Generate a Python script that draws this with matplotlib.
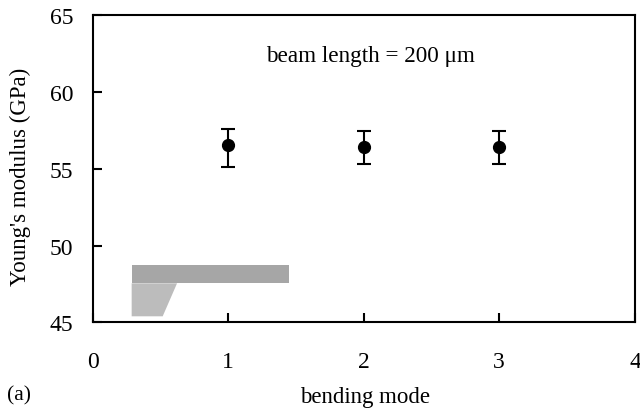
import matplotlib
matplotlib.use('Agg')
import matplotlib.pyplot as plt
from matplotlib.transforms import ScaledTranslation

modes = [1, 2, 3]
modulus = [56.53, 56.42, 56.42]
err_low = [1.43, 1.12, 1.12]
err_high = [1.07, 1.05, 1.05]

# little cantilever sketch in the corner
beam_x = [0.289, 1.45, 1.45, 0.289]
beam_y = [48.71, 48.71, 47.54, 47.54]
base_x = [0.289, 0.624, 0.518, 0.289]
base_y = [47.54, 47.54, 45.39, 45.39]

plt.rcParams['font.family'] = ['Liberation Serif', 'DejaVu Serif']

fig = plt.figure(figsize=(6.4, 4.1), dpi=100)
ax = fig.add_axes([92.5/640, 1-323.3/410, 542/640, 307/410])

ax.fill(base_x, base_y, color='#bcbcbc', lw=0)
ax.fill(beam_x, beam_y, color='#a6a6a6', lw=0)
ax.errorbar(modes, modulus, yerr=[err_low, err_high], fmt='o', color='black',
            ms=8.5, elinewidth=1.5, capsize=4.7, capthick=1.5)

ax.set_xlim(0, 4)
ax.set_ylim(45, 65)
ax.set_xticks([0, 1, 2, 3, 4])
ax.set_yticks([45, 50, 55, 60, 65])
ax.tick_params(direction='in', length=6.2, width=1.5, labelsize=17)
ax.tick_params(axis='x', pad=20.5)
ax.tick_params(axis='y', pad=14)
# the 4 sits right at the picture edge
lab = ax.get_xticklabels()[4]
lab.set_ha('right')
lab.set_transform(lab.get_transform() + ScaledTranslation(5/72, 0, fig.dpi_scale_trans))
for s in ax.spines.values():
    s.set_linewidth(1.5)

ax.set_xlabel('bending mode', fontsize=16.5, labelpad=10, x=0.503)
ax.set_ylabel("Young's modulus (GPa)", fontsize=16.5, labelpad=13, y=0.477)
ax.text(2.05, 62.4, 'beam length = 200 μm', fontsize=16.7, ha='center', va='center')
fig.text(7/640, 1-396/410, '(a)', fontsize=15.5, va='center')

fig.savefig('out.png', dpi=100)
